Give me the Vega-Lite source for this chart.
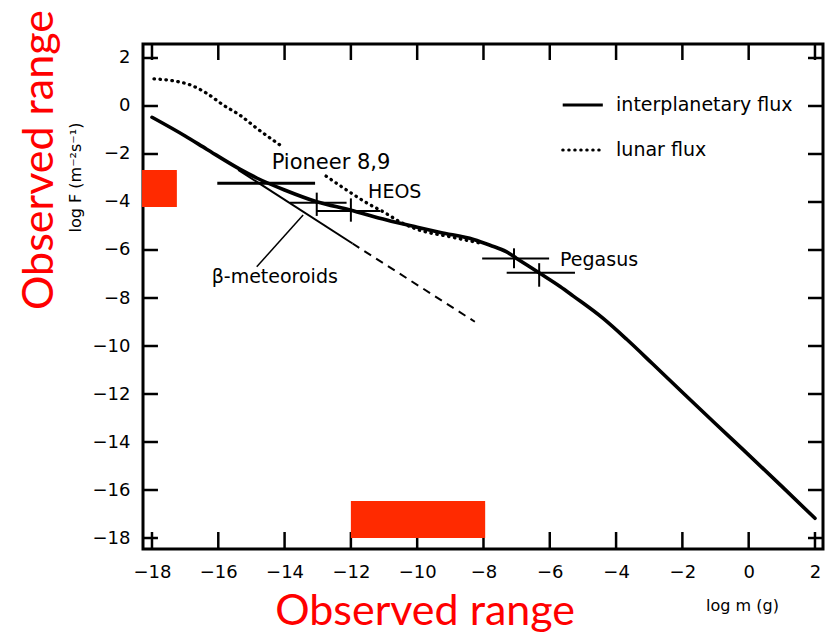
{
  "$schema": "https://vega.github.io/schema/vega-lite/v6.json",
  "width": 680,
  "height": 505,
  "autosize": {"type": "none"},
  "padding": {"left": 143, "top": 44, "right": 16, "bottom": 84},
  "background": "white",
  "config": {
    "view": {"stroke": "black", "strokeWidth": 3, "fill": "transparent"},
    "font": "DejaVu Sans",
    "axis": {"labelColor": "black", "titleColor": "black", "grid": false, "domain": false, "ticks": false}
  },
  "datasets": {
    "interplanetary": [
      {"logm": -18.0, "logF": -0.47}, {"logm": -17.0, "logF": -1.25}, {"logm": -16.35, "logF": -1.8},
      {"logm": -15.35, "logF": -2.63}, {"logm": -14.84, "logF": -3.0}, {"logm": -14.0, "logF": -3.5},
      {"logm": -13.03, "logF": -3.99}, {"logm": -12.03, "logF": -4.33}, {"logm": -10.92, "logF": -4.75},
      {"logm": -10.0, "logF": -5.05}, {"logm": -9.3, "logF": -5.27}, {"logm": -8.3, "logF": -5.56},
      {"logm": -7.8, "logF": -5.8}, {"logm": -7.3, "logF": -6.08}, {"logm": -7.0, "logF": -6.35},
      {"logm": -6.3, "logF": -6.97}, {"logm": -5.69, "logF": -7.52}, {"logm": -5.29, "logF": -7.92},
      {"logm": -4.39, "logF": -8.85}, {"logm": -3.68, "logF": -9.72}, {"logm": -2.9, "logF": -10.74},
      {"logm": -1.97, "logF": -11.97}, {"logm": -1.0, "logF": -13.24}, {"logm": -0.16, "logF": -14.33},
      {"logm": 1.0, "logF": -15.85}, {"logm": 2.0, "logF": -17.18}
    ],
    "lunar": [
      {"part": "upper", "logm": -17.94, "logF": 1.13}, {"part": "upper", "logm": -17.36, "logF": 1.05},
      {"part": "upper", "logm": -16.85, "logF": 0.88}, {"part": "upper", "logm": -16.35, "logF": 0.53},
      {"part": "upper", "logm": -15.85, "logF": 0.04}, {"part": "upper", "logm": -15.35, "logF": -0.38},
      {"part": "upper", "logm": -14.84, "logF": -0.93}, {"part": "upper", "logm": -14.04, "logF": -1.72},
      {"part": "lower", "logm": -12.75, "logF": -2.92}, {"part": "lower", "logm": -12.13, "logF": -3.5},
      {"part": "lower", "logm": -11.58, "logF": -3.99}, {"part": "lower", "logm": -10.97, "logF": -4.45},
      {"part": "lower", "logm": -10.5, "logF": -4.84}, {"part": "lower", "logm": -10.0, "logF": -5.14},
      {"part": "lower", "logm": -9.0, "logF": -5.45}, {"part": "lower", "logm": -8.0, "logF": -5.74}
    ],
    "tick_values": [
      {"v": -18}, {"v": -16}, {"v": -14}, {"v": -12}, {"v": -10}, {"v": -8},
      {"v": -6}, {"v": -4}, {"v": -2}, {"v": 0}, {"v": 2}
    ],
    "segments": [
      {"kind": "beta", "x": -15.4, "x2": -11.95, "y": -2.66, "y2": -5.73},
      {"kind": "leader", "x": -14.84, "x2": -13.44, "y": -6.7, "y2": -4.54},
      {"kind": "pioneer", "x": -16.03, "x2": -13.08, "y": -3.22, "y2": -3.22},
      {"kind": "heos", "x": -13.84, "x2": -12.13, "y": -4.03, "y2": -4.03},
      {"kind": "heos", "x": -13.03, "x2": -13.03, "y": -3.61, "y2": -4.58},
      {"kind": "heos", "x": -13.03, "x2": -11.12, "y": -4.37, "y2": -4.37},
      {"kind": "heos", "x": -12.0, "x2": -12.0, "y": -3.85, "y2": -4.82},
      {"kind": "pegasus", "x": -8.04, "x2": -6.02, "y": -6.35, "y2": -6.35},
      {"kind": "pegasus", "x": -7.08, "x2": -7.08, "y": -5.93, "y2": -6.76},
      {"kind": "pegasus", "x": -7.3, "x2": -5.24, "y": -6.95, "y2": -6.95},
      {"kind": "pegasus", "x": -6.32, "x2": -6.32, "y": -6.55, "y2": -7.53},
      {"kind": "key_solid", "x": -5.61, "x2": -4.4, "y": 0.04, "y2": 0.04}
    ],
    "dashed": [
      {"kind": "beta_extrapolated", "x": -11.95, "x2": -8.26, "y": -5.73, "y2": -8.99}
    ],
    "dotted": [
      {"kind": "key_dotted", "x": -5.61, "x2": -4.4, "y": -1.83, "y2": -1.83}
    ],
    "labels": [
      {"text": "Pioneer 8,9", "x": -14.39, "y": -2.38},
      {"text": "HEOS", "x": -11.48, "y": -3.57},
      {"text": "β-meteoroids", "x": -16.2, "y": -7.11},
      {"text": "Pegasus", "x": -5.69, "y": -6.42},
      {"text": "interplanetary flux", "x": -4.0, "y": 0.04},
      {"text": "lunar flux", "x": -4.0, "y": -1.83}
    ],
    "ranges": [
      {"axis": "logF", "x": -18.3, "x2": -17.25, "y": -2.67, "y2": -4.21},
      {"axis": "logm", "x": -12.0, "x2": -7.95, "y": -16.46, "y2": -18.0}
    ],
    "range_titles": [
      {"text": "Observed range", "x": -21.38, "y": -2.25, "angle": 270},
      {"text": "Observed range", "x": -9.76, "y": -21.08, "angle": 0}
    ]
  },
  "layer": [
    {
      "data": {"name": "lunar"},
      "mark": {"type": "line", "color": "black", "strokeWidth": 3.3, "strokeCap": "round", "strokeDash": [0.5, 5.5], "interpolate": "monotone"},
      "encoding": {
        "x": {
          "field": "logm", "type": "quantitative",
          "scale": {"domain": [-18.271, 2.242], "nice": false, "zero": false},
          "axis": {
            "orient": "bottom",
            "values": [-18, -16, -14, -12, -10, -8, -6, -4, -2, 0, 2],
            "labelPadding": 14, "labelFontSize": 18, "labelFont": "DejaVu Sans",
            "title": "log m (g)", "titleFont": "DejaVu Sans", "titleFontSize": 16, "titleFontWeight": "normal",
            "titleX": 599, "titleY": 56, "titleBaseline": "middle", "titleAlign": "center"
          }
        },
        "y": {
          "field": "logF", "type": "quantitative",
          "scale": {"domain": [-18.458, 2.583], "nice": false, "zero": false},
          "axis": {
            "orient": "left",
            "values": [-18, -16, -14, -12, -10, -8, -6, -4, -2, 0, 2],
            "labelPadding": 13, "labelFontSize": 18, "labelFont": "DejaVu Sans",
            "title": "log F (m⁻²s⁻¹)", "titleFont": "DejaVu Sans", "titleFontSize": 16, "titleFontWeight": "normal",
            "titleX": -68, "titleY": 133, "titleAngle": 270, "titleBaseline": "middle", "titleAlign": "center"
          }
        },
        "detail": {"field": "part", "type": "nominal"}
      }
    },
    {
      "data": {"name": "interplanetary"},
      "mark": {"type": "line", "color": "black", "strokeWidth": 3.6, "strokeJoin": "round", "strokeCap": "round", "interpolate": "monotone"},
      "encoding": {
        "x": {"field": "logm", "type": "quantitative", "scale": {"domain": [-18.271, 2.242], "nice": false, "zero": false}},
        "y": {"field": "logF", "type": "quantitative", "scale": {"domain": [-18.458, 2.583], "nice": false, "zero": false}}
      }
    },
    {
      "data": {"name": "tick_values"},
      "mark": {"type": "rule", "color": "black", "strokeWidth": 2.5},
      "encoding": {
        "y": {"field": "v", "type": "quantitative", "scale": {"domain": [-18.458, 2.583], "nice": false, "zero": false}},
        "x": {"datum": -18.271, "type": "quantitative", "scale": {"domain": [-18.271, 2.242], "nice": false, "zero": false}},
        "x2": {"datum": -17.82}
      }
    },
    {
      "data": {"name": "tick_values"},
      "mark": {"type": "rule", "color": "black", "strokeWidth": 2.5},
      "encoding": {
        "y": {"field": "v", "type": "quantitative", "scale": {"domain": [-18.458, 2.583], "nice": false, "zero": false}},
        "x": {"datum": 2.242, "type": "quantitative", "scale": {"domain": [-18.271, 2.242], "nice": false, "zero": false}},
        "x2": {"datum": 1.79}
      }
    },
    {
      "data": {"name": "tick_values"},
      "mark": {"type": "rule", "color": "black", "strokeWidth": 2.5},
      "encoding": {
        "x": {"field": "v", "type": "quantitative", "scale": {"domain": [-18.271, 2.242], "nice": false, "zero": false}},
        "y": {"datum": -18.458, "type": "quantitative", "scale": {"domain": [-18.458, 2.583], "nice": false, "zero": false}},
        "y2": {"datum": -17.75}
      }
    },
    {
      "data": {"name": "tick_values"},
      "mark": {"type": "rule", "color": "black", "strokeWidth": 2.5},
      "encoding": {
        "x": {"field": "v", "type": "quantitative", "scale": {"domain": [-18.271, 2.242], "nice": false, "zero": false}},
        "y": {"datum": 2.583, "type": "quantitative", "scale": {"domain": [-18.458, 2.583], "nice": false, "zero": false}},
        "y2": {"datum": 1.916}
      }
    },
    {
      "data": {"name": "segments"},
      "transform": [{"filter": "datum.kind === 'pioneer' || datum.kind === 'key_solid'"}],
      "mark": {"type": "rule", "color": "black", "strokeWidth": 3},
      "encoding": {
        "x": {"field": "x", "type": "quantitative", "scale": {"domain": [-18.271, 2.242], "nice": false, "zero": false}},
        "x2": {"field": "x2"},
        "y": {"field": "y", "type": "quantitative", "scale": {"domain": [-18.458, 2.583], "nice": false, "zero": false}},
        "y2": {"field": "y2"}
      }
    },
    {
      "data": {"name": "segments"},
      "transform": [{"filter": "datum.kind === 'beta' || datum.kind === 'heos' || datum.kind === 'pegasus'"}],
      "mark": {"type": "rule", "color": "black", "strokeWidth": 2},
      "encoding": {
        "x": {"field": "x", "type": "quantitative", "scale": {"domain": [-18.271, 2.242], "nice": false, "zero": false}},
        "x2": {"field": "x2"},
        "y": {"field": "y", "type": "quantitative", "scale": {"domain": [-18.458, 2.583], "nice": false, "zero": false}},
        "y2": {"field": "y2"}
      }
    },
    {
      "data": {"name": "segments"},
      "transform": [{"filter": "datum.kind === 'leader'"}],
      "mark": {"type": "rule", "color": "black", "strokeWidth": 1.5},
      "encoding": {
        "x": {"field": "x", "type": "quantitative", "scale": {"domain": [-18.271, 2.242], "nice": false, "zero": false}},
        "x2": {"field": "x2"},
        "y": {"field": "y", "type": "quantitative", "scale": {"domain": [-18.458, 2.583], "nice": false, "zero": false}},
        "y2": {"field": "y2"}
      }
    },
    {
      "data": {"name": "dashed"},
      "mark": {"type": "rule", "color": "black", "strokeWidth": 2, "strokeDash": [8, 6]},
      "encoding": {
        "x": {"field": "x", "type": "quantitative", "scale": {"domain": [-18.271, 2.242], "nice": false, "zero": false}},
        "x2": {"field": "x2"},
        "y": {"field": "y", "type": "quantitative", "scale": {"domain": [-18.458, 2.583], "nice": false, "zero": false}},
        "y2": {"field": "y2"}
      }
    },
    {
      "data": {"name": "dotted"},
      "mark": {"type": "rule", "color": "black", "strokeWidth": 3, "strokeCap": "round", "strokeDash": [0.5, 5.5]},
      "encoding": {
        "x": {"field": "x", "type": "quantitative", "scale": {"domain": [-18.271, 2.242], "nice": false, "zero": false}},
        "x2": {"field": "x2"},
        "y": {"field": "y", "type": "quantitative", "scale": {"domain": [-18.458, 2.583], "nice": false, "zero": false}},
        "y2": {"field": "y2"}
      }
    },
    {
      "data": {"name": "labels"},
      "mark": {"type": "text", "color": "black", "align": "left", "baseline": "middle", "font": "DejaVu Sans"},
      "encoding": {
        "x": {"field": "x", "type": "quantitative", "scale": {"domain": [-18.271, 2.242], "nice": false, "zero": false}},
        "y": {"field": "y", "type": "quantitative", "scale": {"domain": [-18.458, 2.583], "nice": false, "zero": false}},
        "text": {"field": "text"},
        "size": {"condition": {"test": "datum.text === 'Pioneer 8,9'", "value": 21}, "value": 19}
      }
    },
    {
      "data": {"name": "ranges"},
      "mark": {"type": "rect", "color": "#888888", "opacity": 0.35},
      "encoding": {
        "x": {"field": "x", "type": "quantitative", "scale": {"domain": [-18.271, 2.242], "nice": false, "zero": false}},
        "x2": {"field": "x2"},
        "y": {"field": "y", "type": "quantitative", "scale": {"domain": [-18.458, 2.583], "nice": false, "zero": false}},
        "y2": {"field": "y2"},
        "yOffset": {"value": 3},
        "xOffset": {"value": 1}
      }
    },
    {
      "data": {"name": "ranges"},
      "mark": {"type": "rect", "color": "#ff2a00"},
      "encoding": {
        "x": {"field": "x", "type": "quantitative", "scale": {"domain": [-18.271, 2.242], "nice": false, "zero": false}},
        "x2": {"field": "x2"},
        "y": {"field": "y", "type": "quantitative", "scale": {"domain": [-18.458, 2.583], "nice": false, "zero": false}},
        "y2": {"field": "y2"}
      }
    },
    {
      "data": {"name": "range_titles"},
      "mark": {"type": "text", "color": "#ff0000", "font": "Lato", "fontSize": 43, "align": "center", "baseline": "middle"},
      "encoding": {
        "x": {"field": "x", "type": "quantitative", "scale": {"domain": [-18.271, 2.242], "nice": false, "zero": false}},
        "y": {"field": "y", "type": "quantitative", "scale": {"domain": [-18.458, 2.583], "nice": false, "zero": false}},
        "text": {"field": "text"},
        "angle": {"field": "angle", "type": "quantitative", "scale": null}
      }
    }
  ]
}
